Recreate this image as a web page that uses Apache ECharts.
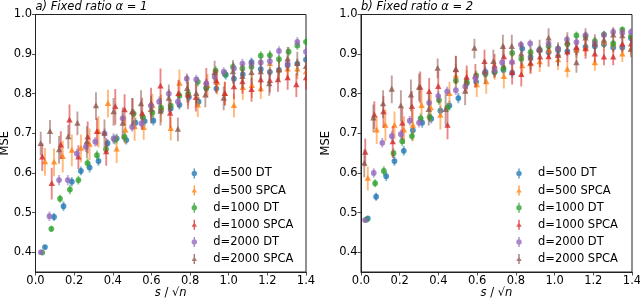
<!DOCTYPE html>
<html><head><meta charset="utf-8">
<script src="https://cdn.jsdelivr.net/npm/echarts@6/dist/echarts.min.js"></script>
<style>html,body{margin:0;padding:0;background:#fff}#c{width:640px;height:299px}</style>
</head><body><div id="c"></div>
<script>
// ---------- labels ----------
var seriesNames = ['d=500 DT','d=500 SPCA','d=1000 DT','d=1000 SPCA','d=2000 DT','d=2000 SPCA'];
var panelTitles = ['a) Fixed ratio \u03b1 = 1','b) Fixed ratio \u03b1 = 2'];
var xTicks = [0.0,0.2,0.4,0.6,0.8,1.0,1.2,1.4];
var yTicks = [0.4,0.5,0.6,0.7,0.8,0.9,1.0];

// ---------- panel a (alpha = 1) ----------
var a500DT_x = [0.049,0.096,0.145,0.188,0.235,0.28,0.326,0.373,0.42,0.47,0.517,0.565,0.61,0.65,0.70,0.745,0.794,0.844,0.884,0.936,0.985,1.027,1.073,1.118,1.166,1.213,1.26,1.305,1.355,1.40];
var a500DT_y = [0.413,0.489,0.516,0.578,0.605,0.614,0.630,0.675,0.687,0.683,0.727,0.731,0.732,0.758,0.763,0.772,0.792,0.780,0.814,0.813,0.848,0.838,0.849,0.880,0.862,0.855,0.860,0.872,0.876,0.886];
var a500DT_e = [0.005,0.010,0.012,0.012,0.011,0.013,0.012,0.010,0.012,0.011,0.012,0.013,0.012,0.011,0.012,0.012,0.013,0.012,0.011,0.012,0.012,0.013,0.012,0.011,0.012,0.012,0.012,0.013,0.012,0.012];

var a500SPCA_x = [0.049,0.096,0.141,0.188,0.235,0.28,0.326,0.375,0.42,0.465,0.513,0.56,0.605,0.65,0.70,0.745,0.79,0.84,0.89,0.94,0.98,1.027,1.073,1.12,1.166,1.213,1.26,1.305,1.355,1.40];
var a500SPCA_y = [0.628,0.627,0.641,0.657,0.662,0.672,0.704,0.775,0.660,0.708,0.716,0.714,0.770,0.763,0.712,0.826,0.800,0.771,0.820,0.828,0.800,0.770,0.815,0.820,0.812,0.876,0.860,0.862,0.862,0.855];
var a500SPCA_e = [0.035,0.035,0.040,0.040,0.035,0.040,0.040,0.035,0.035,0.035,0.035,0.030,0.030,0.035,0.030,0.035,0.030,0.030,0.030,0.030,0.030,0.030,0.030,0.030,0.025,0.030,0.025,0.025,0.025,0.025];

var a1000DT_x = [0.035,0.082,0.127,0.178,0.222,0.269,0.318,0.365,0.41,0.46,0.508,0.555,0.605,0.65,0.70,0.745,0.79,0.84,0.884,0.932,0.98,1.022,1.071,1.118,1.166,1.213,1.26,1.31,1.355,1.40];
var a1000DT_y = [0.399,0.459,0.535,0.558,0.582,0.625,0.645,0.660,0.684,0.691,0.750,0.741,0.752,0.765,0.770,0.795,0.800,0.830,0.816,0.858,0.850,0.868,0.864,0.868,0.896,0.897,0.887,0.906,0.922,0.931];
var a1000DT_e = [0.005,0.008,0.010,0.012,0.011,0.012,0.012,0.011,0.012,0.012,0.011,0.012,0.012,0.011,0.012,0.011,0.012,0.012,0.011,0.012,0.011,0.012,0.011,0.012,0.011,0.012,0.011,0.012,0.011,0.010];

var a1000SPCA_x = [0.035,0.084,0.131,0.176,0.222,0.27,0.318,0.366,0.413,0.461,0.503,0.552,0.598,0.647,0.697,0.74,0.789,0.83,0.884,0.936,0.98,1.027,1.071,1.118,1.166,1.213,1.255,1.305,1.35,1.40];
var a1000SPCA_y = [0.640,0.573,0.670,0.733,0.640,0.690,0.704,0.653,0.767,0.759,0.754,0.750,0.775,0.819,0.750,0.800,0.796,0.790,0.830,0.832,0.800,0.817,0.830,0.810,0.835,0.833,0.835,0.840,0.822,0.840];
var a1000SPCA_e = [0.035,0.040,0.035,0.040,0.030,0.040,0.035,0.035,0.045,0.040,0.035,0.040,0.040,0.045,0.035,0.035,0.035,0.035,0.035,0.030,0.030,0.030,0.030,0.030,0.030,0.030,0.030,0.030,0.030,0.030];

var a2000DT_x = [0.028,0.072,0.122,0.167,0.214,0.26,0.309,0.357,0.404,0.451,0.50,0.548,0.598,0.64,0.69,0.737,0.783,0.832,0.884,0.927,0.974,1.027,1.071,1.118,1.166,1.213,1.26,1.305,1.355,1.40];
var a2000DT_y = [0.400,0.491,0.582,0.582,0.649,0.666,0.679,0.700,0.687,0.738,0.716,0.725,0.769,0.780,0.800,0.780,0.838,0.836,0.826,0.843,0.855,0.864,0.876,0.876,0.879,0.882,0.908,0.876,0.931,0.906];
var a2000DT_e = [0.004,0.012,0.013,0.013,0.012,0.013,0.012,0.012,0.013,0.012,0.012,0.013,0.012,0.013,0.012,0.012,0.013,0.012,0.012,0.012,0.012,0.013,0.012,0.012,0.012,0.012,0.012,0.012,0.012,0.012];

var a2000SPCA_x = [0.027,0.075,0.122,0.17,0.217,0.266,0.313,0.357,0.404,0.451,0.50,0.546,0.598,0.647,0.69,0.737,0.785,0.832,0.879,0.927,0.974,1.022,1.071,1.118,1.166,1.21,1.26,1.305,1.355,1.40];
var a2000SPCA_y = [0.674,0.704,0.658,0.691,0.725,0.678,0.769,0.700,0.754,0.725,0.754,0.774,0.760,0.755,0.788,0.710,0.813,0.800,0.796,0.853,0.788,0.855,0.843,0.853,0.855,0.825,0.860,0.888,0.876,0.868];
var a2000SPCA_e = [0.030,0.030,0.035,0.030,0.030,0.040,0.035,0.035,0.035,0.040,0.035,0.035,0.035,0.035,0.035,0.030,0.035,0.030,0.030,0.030,0.030,0.030,0.030,0.030,0.030,0.030,0.030,0.030,0.030,0.030];

// ---------- panel b (alpha = 2) ----------
var b500DT_x = [0.035,0.078,0.13,0.173,0.221,0.268,0.316,0.363,0.41,0.457,0.503,0.546,0.595,0.643,0.69,0.736,0.781,0.833,0.876,0.923,0.969,1.018,1.066,1.113,1.16,1.208,1.255,1.303,1.35,1.395];
var b500DT_y = [0.485,0.540,0.592,0.630,0.656,0.708,0.727,0.737,0.757,0.770,0.789,0.826,0.830,0.855,0.855,0.860,0.853,0.914,0.893,0.910,0.905,0.910,0.907,0.910,0.918,0.920,0.925,0.917,0.917,0.940];
var b500DT_e = [0.005,0.010,0.012,0.012,0.012,0.012,0.013,0.012,0.012,0.012,0.013,0.012,0.012,0.012,0.012,0.012,0.012,0.011,0.012,0.012,0.012,0.011,0.012,0.012,0.011,0.012,0.011,0.011,0.011,0.011];

var b500SPCA_x = [0.035,0.081,0.126,0.173,0.222,0.268,0.313,0.36,0.41,0.457,0.49,0.546,0.598,0.647,0.69,0.738,0.781,0.833,0.876,0.923,0.972,1.018,1.066,1.113,1.16,1.208,1.255,1.303,1.35,1.395];
var b500SPCA_y = [0.586,0.708,0.720,0.720,0.708,0.720,0.770,0.764,0.745,0.800,0.845,0.830,0.822,0.830,0.860,0.843,0.880,0.870,0.875,0.880,0.909,0.885,0.861,0.910,0.915,0.878,0.930,0.925,0.900,0.912];
var b500SPCA_e = [0.030,0.035,0.040,0.035,0.035,0.040,0.040,0.035,0.035,0.030,0.030,0.030,0.030,0.030,0.025,0.030,0.025,0.025,0.025,0.025,0.020,0.025,0.020,0.020,0.020,0.020,0.020,0.020,0.020,0.015];

var b1000DT_x = [0.028,0.073,0.118,0.168,0.213,0.263,0.308,0.354,0.403,0.447,0.49,0.546,0.595,0.643,0.69,0.736,0.781,0.828,0.876,0.923,0.969,1.018,1.066,1.113,1.16,1.208,1.255,1.303,1.35,1.395];
var b1000DT_y = [0.482,0.574,0.605,0.650,0.680,0.693,0.738,0.741,0.784,0.765,0.833,0.830,0.846,0.850,0.855,0.865,0.903,0.888,0.905,0.911,0.920,0.914,0.925,0.947,0.945,0.933,0.950,0.927,0.962,0.945];
var b1000DT_e = [0.004,0.010,0.012,0.012,0.012,0.011,0.012,0.012,0.012,0.012,0.012,0.011,0.012,0.011,0.011,0.011,0.010,0.011,0.010,0.010,0.010,0.010,0.010,0.010,0.009,0.010,0.009,0.009,0.008,0.009];

var b1000SPCA_x = [0.022,0.069,0.116,0.164,0.213,0.263,0.306,0.352,0.399,0.447,0.49,0.546,0.591,0.638,0.69,0.738,0.781,0.828,0.876,0.925,0.969,1.018,1.066,1.113,1.16,1.208,1.255,1.303,1.35,1.395];
var b1000SPCA_y = [0.652,0.746,0.754,0.678,0.725,0.767,0.816,0.805,0.818,0.720,0.860,0.841,0.845,0.881,0.870,0.893,0.853,0.848,0.877,0.892,0.893,0.896,0.905,0.917,0.913,0.900,0.892,0.892,0.925,0.925];
var b1000SPCA_e = [0.035,0.035,0.040,0.040,0.040,0.040,0.040,0.035,0.040,0.035,0.035,0.030,0.030,0.030,0.030,0.030,0.030,0.030,0.025,0.025,0.025,0.025,0.025,0.020,0.025,0.020,0.020,0.020,0.020,0.020];

var b2000DT_x = [0.021,0.066,0.11,0.159,0.206,0.252,0.30,0.352,0.399,0.445,0.49,0.538,0.591,0.64,0.69,0.729,0.78,0.826,0.874,0.92,0.969,1.018,1.064,1.113,1.16,1.208,1.255,1.303,1.35,1.395];
var b2000DT_y = [0.481,0.600,0.676,0.693,0.698,0.732,0.727,0.777,0.794,0.806,0.809,0.818,0.839,0.854,0.860,0.879,0.880,0.924,0.927,0.910,0.927,0.914,0.937,0.930,0.948,0.927,0.948,0.956,0.954,0.956];
var b2000DT_e = [0.004,0.012,0.012,0.012,0.012,0.012,0.012,0.012,0.012,0.012,0.012,0.012,0.011,0.011,0.011,0.011,0.011,0.010,0.010,0.010,0.010,0.010,0.010,0.010,0.009,0.010,0.009,0.009,0.009,0.009];

var b2000SPCA_x = [0.017,0.064,0.114,0.159,0.206,0.258,0.30,0.35,0.396,0.437,0.49,0.538,0.586,0.64,0.684,0.733,0.779,0.828,0.876,0.923,0.969,1.018,1.066,1.113,1.16,1.208,1.255,1.303,1.35,1.395];
var b2000SPCA_y = [0.624,0.738,0.774,0.811,0.769,0.796,0.816,0.760,0.864,0.760,0.861,0.806,0.914,0.855,0.881,0.919,0.919,0.900,0.890,0.911,0.940,0.900,0.930,0.878,0.940,0.925,0.935,0.948,0.946,0.912];
var b2000SPCA_e = [0.035,0.035,0.035,0.035,0.040,0.040,0.035,0.040,0.025,0.040,0.035,0.035,0.025,0.030,0.030,0.030,0.030,0.030,0.030,0.025,0.025,0.030,0.025,0.025,0.025,0.025,0.020,0.020,0.020,0.020];

// ---------- styling ----------
var colors = ['#1f77b4','#ff7f0e','#2ca02c','#d62728','#9467bd','#8c564b'];
var markers = ['circle','triangle','circle','triangle','circle','triangle'];
var FONT = 'DejaVu Sans';
var FS = 11.5;

var panels = [
  [[a500DT_x,a500DT_y,a500DT_e],[a500SPCA_x,a500SPCA_y,a500SPCA_e],[a1000DT_x,a1000DT_y,a1000DT_e],[a1000SPCA_x,a1000SPCA_y,a1000SPCA_e],[a2000DT_x,a2000DT_y,a2000DT_e],[a2000SPCA_x,a2000SPCA_y,a2000SPCA_e]],
  [[b500DT_x,b500DT_y,b500DT_e],[b500SPCA_x,b500SPCA_y,b500SPCA_e],[b1000DT_x,b1000DT_y,b1000DT_e],[b1000SPCA_x,b1000SPCA_y,b1000SPCA_e],[b2000DT_x,b2000DT_y,b2000DT_e],[b2000SPCA_x,b2000SPCA_y,b2000SPCA_e]]
];

var gridPos = [{left:35.5, width:270.5}, {left:361, width:271}];
var legendLeft = [180.3, 505];
var yNameGap = [24, 29];

// icon box 56x20 units (invisible zero-area anchors at both ends keep the bar centred)
var anchors = ' M0,10 L0.001,10 Z M56,10 L55.999,10 Z';
var iconCircle = 'path://M26.6,0 L29.4,0 L29.4,20 L26.6,20 Z M22.6,10 A5.4,5.4 0 1 1 33.4,10 A5.4,5.4 0 1 1 22.6,10 Z' + anchors;
var iconTri = 'path://M26.6,0 L29.4,0 L29.4,20 L26.6,20 Z M28,4.8 L33.4,13.8 L22.6,13.8 Z' + anchors;

function renderErr(shape){
  return function(params, api){
    var x = api.value(0), y = api.value(1), e = api.value(2);
    var p = api.coord([x, y]);
    var hi = api.coord([x, y + e]);
    var lo = api.coord([x, y - e]);
    var c = api.visual('color');
    var ch = [{type:'line', shape:{x1:p[0], y1:hi[1], x2:p[0], y2:lo[1]}, style:{stroke:c, lineWidth:1.9, opacity:0.55}}];
    if (shape === 'circle') {
      ch.push({type:'circle', shape:{cx:p[0], cy:p[1], r:2.9}, style:{fill:c, opacity:0.78}});
    } else {
      ch.push({type:'polygon', shape:{points:[[p[0], p[1]-3.5],[p[0]+3.2, p[1]+2.3],[p[0]-3.2, p[1]+2.3]]}, style:{fill:c, opacity:0.78}});
    }
    return {type:'group', children: ch};
  };
}

var grids = [], xAxes = [], yAxes = [], series = [], titles = [], legends = [];
for (var g = 0; g < 2; g++) {
  grids.push({left:gridPos[g].left, width:gridPos[g].width, top:14.5, height:257.5, containLabel:false, outerBoundsMode:'none',
    show:true, borderColor:'#222', borderWidth:1, backgroundColor:'transparent'});
  xAxes.push({
    type:'value', gridIndex:g, min:0, max:1.4,
    axisLine:{onZero:false, lineStyle:{color:'#222', width:1}},
    axisTick:{customValues:xTicks, length:3.5, lineStyle:{color:'#222', width:0.8}},
    axisLabel:{customValues:xTicks, formatter:function(v){return v.toFixed(1);}, fontSize:FS, color:'#000', fontFamily:FONT, margin:3.5},
    splitLine:{show:false},
    name:'{i|s} / \u221a{i|n}', nameLocation:'middle', nameGap:15, nameMoveOverlap:false,
    nameTextStyle:{fontSize:FS, color:'#000', fontFamily:FONT, verticalAlign:'top', lineHeight:13, rich:{i:{fontStyle:'italic', fontSize:FS, fontFamily:FONT, color:'#000', lineHeight:13}}}
  });
  yAxes.push({
    type:'value', gridIndex:g, min:0.35, max:1.0,
    axisLine:{onZero:false, lineStyle:{color:'#222', width:1}},
    axisTick:{customValues:yTicks, length:3.5, lineStyle:{color:'#222', width:0.8}},
    axisLabel:{customValues:yTicks, formatter:function(v){return v.toFixed(1);}, fontSize:FS, color:'#000', fontFamily:FONT, margin:3.5},
    splitLine:{show:false},
    name:'MSE', nameLocation:'middle', nameGap:yNameGap[g], nameMoveOverlap:false,
    nameTextStyle:{fontSize:FS, color:'#000', fontFamily:FONT}
  });
  titles.push({text:panelTitles[g], left:gridPos[g].left, top:1, padding:0,
    textStyle:{fontSize:FS, fontStyle:'italic', fontWeight:'normal', color:'#000', fontFamily:FONT}});
  legends.push({
    orient:'vertical', left:legendLeft[g], top:167.5, padding:0,
    itemWidth:28, itemHeight:10, itemGap:5.1, selectedMode:false,
    textStyle:{fontSize:FS, color:'#000', fontFamily:FONT},
    data: seriesNames.map(function(n, i){ return {name:n, icon: markers[i]==='circle' ? iconCircle : iconTri}; })
  });
  for (var s = 0; s < 6; s++) {
    var arr = panels[g][s];
    var data = arr[0].map(function(xv, k){ return [xv, arr[1][k], arr[2][k]]; });
    series.push({
      type:'custom', name:seriesNames[s], xAxisIndex:g, yAxisIndex:g,
      itemStyle:{color:colors[s], opacity:0.78},
      encode:{x:0, y:1}, dimensions:['x','y','err'],
      renderItem: renderErr(markers[s]),
      data:data, clip:true
    });
  }
}

var chart = echarts.init(document.getElementById('c'), null, {renderer:'canvas'});
chart.setOption({
  animation:false,
  backgroundColor:'#fff',
  textStyle:{fontFamily:FONT},
  title:titles, legend:legends, grid:grids, xAxis:xAxes, yAxis:yAxes, series:series
});
</script>
</body></html>
